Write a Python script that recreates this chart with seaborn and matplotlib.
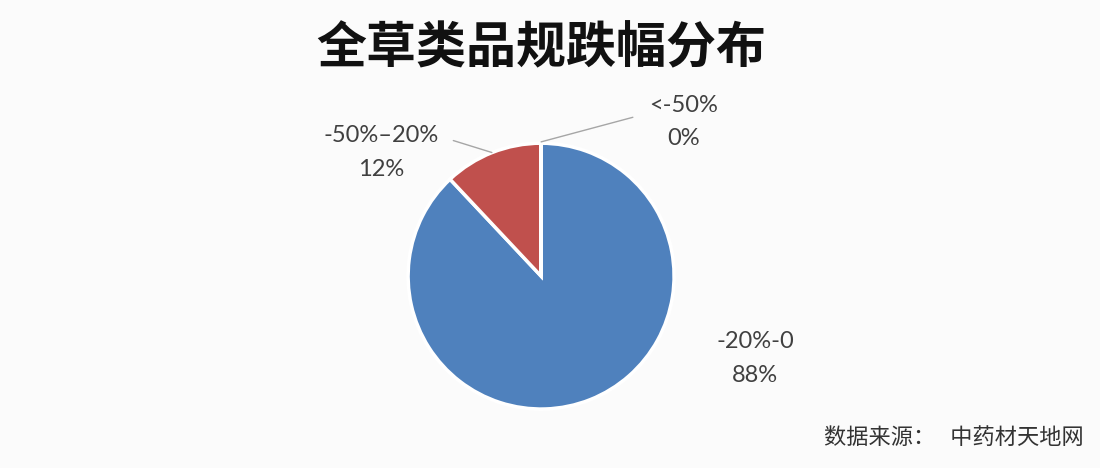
import numpy as np
import matplotlib
matplotlib.use("Agg")
import matplotlib.pyplot as plt
import seaborn as sns

# ==================== 数据 ====================
categories = ["-20%-0", "-50%–20%", "<-50%"]
shares = [88, 12, 0.0001]
share_labels = ["88%", "12%", "0%"]
colors = ["#4F81BD", "#C0504D", "#9BBB59"]

title = "全草类品规跌幅分布"
source = "数据来源：   中药材天地网"

# ==================== 样式 ====================
sns.set_theme(style="white")
plt.rcParams['font.family'] = ['Lato', 'Noto Sans CJK SC', 'DejaVu Sans']
plt.rcParams['axes.unicode_minus'] = False

fig = plt.figure(figsize=(11, 4.68), dpi=100)
fig.patch.set_facecolor("#fbfbfb")

# 饼图区域
ax = fig.add_axes([0.371, 0.126, 0.2418, 0.568])
ax.set_facecolor("none")
wedges, _ = ax.pie(shares, colors=colors, startangle=90, counterclock=False,
                   radius=1, wedgeprops=dict(edgecolor="white", linewidth=2.5))
ax.set_xlim(-1, 1)
ax.set_ylim(-1, 1)
ax.set_aspect("auto")
ax.axis("off")

# 标签位置（相对饼图半径）
text_pos = [(1.61, -0.62), (-1.2, 0.93), (1.07, 1.16)]
leader = [None, (-0.37, 0.93), (0.0, 1.01)]
leader_end = [None, (-0.66, 1.02), (0.69, 1.195)]
txt_color = "#404040"
for i, (cat, lab) in enumerate(zip(categories, share_labels)):
    x, y = text_pos[i]
    ax.text(x, y, f"{cat}\n{lab}", ha="center", va="center", fontsize=17,
            color=txt_color, linespacing=1.75, clip_on=False)
    if leader[i] is not None:
        ax.plot([leader[i][0], leader_end[i][0]], [leader[i][1], leader_end[i][1]],
                color="#a6a6a6", lw=1, clip_on=False)

# 标题
fig.text(0.492, 0.895, title, ha="center", va="center", fontsize=36,
         fontweight="bold", family=["Noto Sans CJK SC", "DejaVu Sans"], color="#111111")

# 数据来源
fig.text(0.985, 0.065, source, ha="right", va="center", fontsize=16,
         family=["Noto Sans CJK SC", "DejaVu Sans"], color="#333333")

plt.savefig("out.png", dpi=100, facecolor=fig.get_facecolor())
